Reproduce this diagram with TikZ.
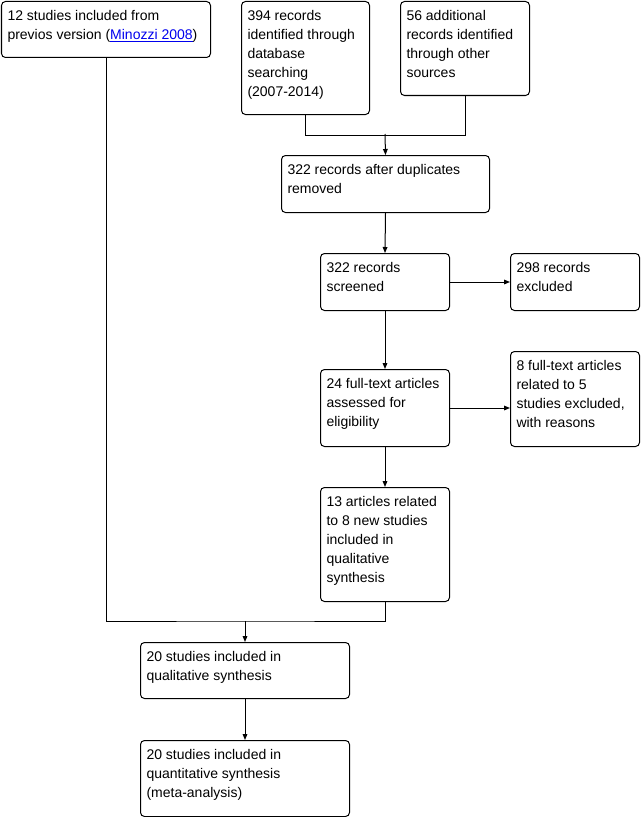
\documentclass[tikz,border=0pt]{standalone}
\usepackage{fontspec}
\setmainfont{Liberation Sans}
\usetikzlibrary{arrows.meta}
\usetikzlibrary{calc}
\definecolor{linkblue}{RGB}{0,0,238}
\newcommand{\stagetext}[3]{\parbox[c][\dimexpr 0.75pt*#2-8.6pt\relax][t]{\dimexpr 0.75pt*#1-9pt\relax}{\strut #3}}

\begin{document}
\begin{tikzpicture}[x=0.75pt, y=-0.75pt, line width=0.75pt,
  every node/.style={draw, rounded corners=3pt, anchor=north west, inner xsep=4.5pt, inner ysep=4.3pt, font=\fontsize{10.5pt}{14.25pt}\selectfont},
  arr/.style={-{Triangle[length=4.5pt, width=3.5pt]}}]
        \useasboundingbox (0,0) rectangle (642,817);

        \node (prev) at (1,1) {\stagetext{209}{56}{12 studies included from\\previos version (\textcolor{linkblue}{\underline{Minozzi 2008}})}};
        \node (db) at (241,1) {\stagetext{128}{113}{394 records\\identified through\\database\\searching\\(2007-2014)}};
        \node (other) at (400,1) {\stagetext{129}{94}{56 additional\\records identified\\through other\\sources}};

        \node (dup) at (281,155) {\stagetext{208}{57}{322 records after duplicates\\removed}};

        \node (screen) at (320,253) {\stagetext{129}{57}{322 records\\screened}};
        \node (excl) at (510,253) {\stagetext{129}{57}{298 records\\excluded}};

        \node (full) at (320,369) {\stagetext{129}{77}{24 full-text articles\\assessed for\\eligibility}};
        \node (fullexcl) at (510,351) {\stagetext{129}{95}{8 full-text articles\\related to 5\\studies excluded,\\with reasons}};

        \node (newst) at (320,487) {\stagetext{129}{114}{13 articles related\\to 8 new studies\\included in\\qualitative\\synthesis}};

        \node (qual) at (140,642) {\stagetext{209}{56}{20 studies included in\\qualitative synthesis}};
        \node (quant) at (140,740) {\stagetext{209}{76}{20 studies included in\\quantitative synthesis\\(meta-analysis)}};

        \coordinate (m1) at (385,134);
        \coordinate (m2) at (245,621);

        \draw (db.south) -- ++(0,20) -| (other.south);
        \draw[arr] (m1) -- (dup.north);
        \draw[arr] (dup.south) -- (screen.north);
        \draw[arr] (screen.east) -- (excl.west);
        \draw[arr] (screen.south) -- (full.north);
        \draw[arr] (full.east) -- (full.east -| fullexcl.west);
        \draw[arr] (full.south) -- (newst.north);
        \draw (prev.south) |- (m2) -| (newst.south);
        \draw[arr] (m2) -- (qual.north);
        \draw[arr] (qual.south) -- (quant.north);
      \end{tikzpicture}
\end{document}
